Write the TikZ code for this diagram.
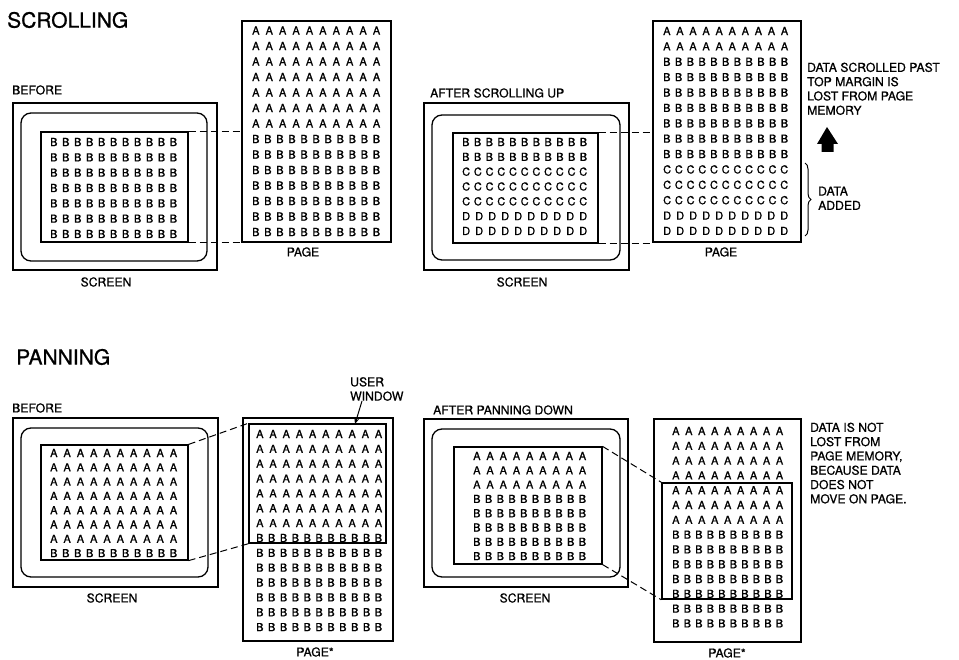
\documentclass[tikz,border=0pt]{standalone}
\usepackage{fontspec}
\setmainfont{TeX Gyre Heros}[RawFeature={embolden=0.8}]
\usetikzlibrary{fit,arrows.meta,decorations.pathreplacing}
% grid of letters: prefix, x-left, width, y of first row, row step, list r/letter/count
\newcommand{\lgrid}[6]{%
  \foreach \r/\L/\n in {#6}{%
    \node[gridtxt, anchor=west] (#1-\r) at (#2,{#4+(\r-1)*#5})
      {\hbox to #3pt{\L\foreach \k in {2,...,\n}{\hfil\L}}};%
  }}
% framed box from corner to corner
\newcommand{\frm}[6]{\node[#6, fit={(#2,#3) (#4,#5)}] (#1) {};}
\begin{document}
\begin{tikzpicture}[x=1pt,y=-1pt,
  gridtxt/.style={inner sep=0pt, font=\fontsize{11}{12}\selectfont},
  lbl/.style={inner sep=0pt, font=\fontsize{12.2}{14.3}\selectfont},
  ttl/.style={inner sep=0pt, font=\fontsize{21}{24}\selectfont},
  outerfr/.style={draw, line width=1.6pt, inner sep=0pt},
  roundfr/.style={draw, line width=1.3pt, rounded corners=10pt, inner sep=0pt},
  innerfr/.style={draw, line width=1.2pt, inner sep=0pt},
  pagefr/.style={draw, line width=1.8pt, inner sep=0pt},
  winfr/.style={draw, line width=1.5pt, inner sep=0pt},
  dashl/.style={line width=1pt, dash pattern=on 7pt off 4pt},
  ]
\useasboundingbox (0,0) rectangle (959,660);

% ================= SCROLLING =================
\node[ttl, anchor=west] (tScroll) at (7,20) {SCROLLING};

% --- before ---
\node[lbl, anchor=west] (sbLbl) at (12,90) {BEFORE};
\frm{sbO}{13}{103}{217}{270}{outerfr}
\frm{sbR}{21}{113}{207}{261}{roundfr}
\frm{sbI}{41}{132}{188}{242}{innerfr}
\frm{sbP}{242}{21}{391}{242}{pagefr}
\lgrid{sbIg}{50}{127}{142}{15.33}{1/B/11,2/B/11,3/B/11,4/B/11,5/B/11,6/B/11,7/B/11}
\lgrid{sbPg}{252}{128}{30.5}{15.5}{1/A/10,2/A/10,3/A/10,4/A/10,5/A/10,6/A/10,7/A/10,8/B/11,9/B/11,10/B/11,11/B/11,12/B/11,13/B/11,14/B/11}
\draw[dashl] (sbI.north east) -- (sbP.west |- sbI.north east);
\draw[dashl] (sbI.south east) -- (sbP.west |- sbI.south east);
\node[lbl] (sbScr) at (106,282) {SCREEN};
\node[lbl] (sbPg) at (303,252) {PAGE};

% --- after scrolling up ---
\node[lbl, anchor=west] (saLbl) at (430,93) {AFTER SCROLLING UP};
\frm{saO}{424}{103}{629}{270}{outerfr}
\frm{saR}{432}{115}{620}{260}{roundfr}
\frm{saI}{453}{133}{598}{243}{innerfr}
\frm{saP}{653}{21}{801}{242}{pagefr}
\lgrid{saIg}{462}{125}{142}{14.83}{1/B/11,2/B/11,3/C/11,4/C/11,5/C/11,6/D/10,7/D/10}
\lgrid{saPg}{663}{125}{31}{15.38}{1/A/10,2/A/10,3/B/11,4/B/11,5/B/11,6/B/11,7/B/11,8/B/11,9/B/11,10/C/11,11/C/11,12/C/11,13/D/10,14/D/10}
\draw[dashl] (saI.north east) -- (saP.west |- saI.north east);
\draw[dashl] (saI.south east) -- (saP.west |- saI.south east);
\node[lbl] (saScr) at (522,282) {SCREEN};
\node[lbl] (saPg) at (721,252) {PAGE};
\node[lbl, anchor=north west, align=left] (saNote) at (807,62.5)
  {DATA SCROLLED PAST\\TOP MARGIN IS\\LOST FROM PAGE\\MEMORY};
\fill (827,127) -- (838,144) -- (833.5,144) -- (833.5,152) -- (821.5,152)
  -- (821.5,144) -- (817,144) -- cycle;
\coordinate (brT) at (805,163);
\coordinate (brB) at (805,236);
\draw[line width=1pt, decorate, decoration={brace, amplitude=6pt}] (brT) -- (brB);
\node[lbl, anchor=north west, align=left] (saAdd) at (818,186.5) {DATA\\ADDED};

% ================= PANNING =================
\node[ttl, anchor=west] (tPan) at (16,357) {PANNING};

% --- before ---
\node[lbl, anchor=west] (pbLbl) at (12,408) {BEFORE};
\frm{pbO}{13}{418}{218}{587}{outerfr}
\frm{pbR}{21}{428}{208}{577}{roundfr}
\frm{pbI}{41}{445}{188}{560}{innerfr}
\frm{pbP}{243}{418}{393}{641}{pagefr}
\frm{pbW}{249}{424}{386}{543}{winfr}
\lgrid{pbIg}{50}{127}{453}{14.3}{1/A/10,2/A/10,3/A/10,4/A/10,5/A/10,6/A/10,7/A/10,8/B/11}
\lgrid{pbPg}{256}{126}{434}{14.85}{1/A/10,2/A/10,3/A/10,4/A/10,5/A/10,6/A/10,7/A/10,8/B/11,9/B/11,10/B/11,11/B/11,12/B/11,13/B/11,14/B/11}
\draw[dashl] (pbI.north east) -- (pbW.north west);
\draw[dashl] (pbI.south east) -- (pbW.south west);
\node[lbl] (pbScr) at (112,598) {SCREEN};
\node[lbl] (pbPg) at (315,652) {PAGE*};
\node[lbl, anchor=north west, align=left] (uwLbl) at (350,377) {USER\\WINDOW};
\coordinate (uwA) at (362,401);
\coordinate (uwB) at (355,424);
\draw[line width=1pt, -{Stealth[length=6pt,width=5pt]}] (uwA) -- (uwB);

% --- after panning down ---
\node[lbl, anchor=west] (paLbl) at (433,410) {AFTER PANNING DOWN};
\frm{paO}{424}{419}{628}{587}{outerfr}
\frm{paR}{432}{429}{620}{577}{roundfr}
\frm{paI}{454}{447}{602}{564}{innerfr}
\frm{paP}{654}{419}{801}{642}{pagefr}
\frm{paW}{662}{483}{792}{599}{winfr}
\lgrid{paIg}{473}{113}{456}{14.3}{1/A/9,2/A/9,3/A/9,4/B/10,5/B/10,6/B/10,7/B/10,8/B/10}
\lgrid{paPg}{672}{111}{431}{14.8}{1/A/9,2/A/9,3/A/9,4/A/9,5/A/9,6/A/9,7/A/9,8/B/10,9/B/10,10/B/10,11/B/10,12/B/10,13/B/10,14/B/10}
\draw[dashl] (paI.north east) -- (paW.north west);
\draw[dashl] (paI.south east) -- (paW.south west);
\node[lbl] (paScr) at (525,598) {SCREEN};
\node[lbl] (paPg) at (727,653) {PAGE*};
\node[lbl, anchor=north west, align=left] (paNote) at (810,422.5)
  {DATA IS NOT\\LOST FROM\\PAGE MEMORY,\\BECAUSE DATA\\DOES NOT\\MOVE ON PAGE.};
\end{tikzpicture}
\end{document}
